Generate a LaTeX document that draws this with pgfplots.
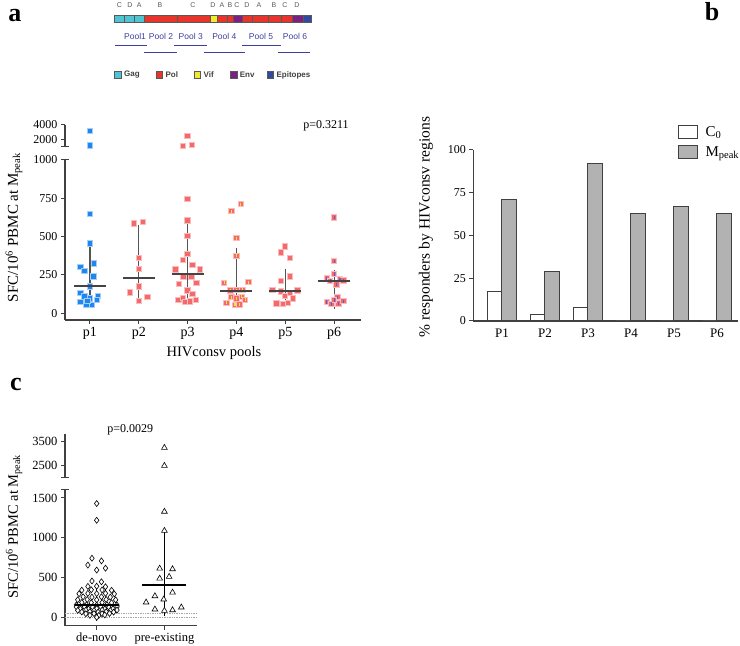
\documentclass[border=0pt]{standalone}
\usepackage{fontspec}
\setmainfont{Liberation Serif}
\newfontfamily\arial{Liberation Sans}
\usepackage{pgfplots}
\pgfplotsset{compat=1.18}

\definecolor{axgray}{HTML}{404040}
\definecolor{medgray}{HTML}{444444}
\definecolor{whgray}{HTML}{555555}
\definecolor{pblue}{HTML}{1E86EE}
\definecolor{pbluel}{HTML}{A3CFF7}
\definecolor{pred}{HTML}{F46A6A}
\definecolor{predl}{HTML}{F9BDBD}
\definecolor{gcyan}{HTML}{4FC4D3}
\definecolor{gred}{HTML}{E8352B}
\definecolor{gyel}{HTML}{F3EA2C}
\definecolor{gpur}{HTML}{7C2181}
\definecolor{gblue}{HTML}{2F4AA1}
\definecolor{pviol}{HTML}{5B5BE0}
\definecolor{pooltxt}{HTML}{3B3F9E}
\definecolor{barg}{HTML}{B2B2B2}

\newcommand{\fs}[1]{\fontsize{#1}{#1}\selectfont}

\pgfplotsset{
  prism/.style={
    scale only axis, anchor=south west,
    axis x line*=bottom, axis y line*=left,
    axis line style={axgray, line width=1.1pt, -},
    every tick/.style={axgray, line width=1pt},
    tick align=outside, major tick length=4pt,
    /pgf/number format/assume math mode=true,
    /pgf/number format/set thousands separator={},
    clip=false,
  },
  brk/.style={extra y tick style={tick align=center, major tick length=8pt}},
  sqb/.style={only marks, mark=square*, mark size=2.7pt, mark options={line width=1pt, fill=pblue, draw=pbluel}},
  sqr/.style={only marks, mark=square*, mark size=2.7pt, mark options={line width=1pt, fill=pred, draw=predl}},
  medA/.style={only marks, mark=-, mark size=16pt, mark options={line width=2pt, draw=medgray},
    error bars/.cd, y dir=both, y explicit, error mark=-,
    error mark options={mark size=8pt, line width=1.2pt, draw=whgray},
    error bar style={line width=1.2pt, draw=whgray}},
  medC/.style={only marks, mark=-, mark size=22pt, mark options={line width=1.8pt, draw=black},
    error bars/.cd, y dir=both, y explicit, error mark=-,
    error mark options={mark size=11.5pt, line width=1pt, draw=black},
    error bar style={line width=1pt, draw=black}},
  dia/.style={only marks, mark=diamond*, mark size=3pt, mark options={fill=white, draw=black, line width=0.6pt}},
  tri/.style={only marks, mark=triangle*, mark size=3.3pt, mark options={fill=white, draw=black, line width=0.6pt}},
}

\begin{document}
\begin{tikzpicture}[x=1pt,y=1pt]
\useasboundingbox (0,0) rectangle (740,646);

% ---------------- panel letters and notes
\node[font=\bfseries\fs{26}] at (15,630) {a};
\node[font=\bfseries\fs{26}] at (712,634) {b};
\node[font=\bfseries\fs{26}] at (16,262) {c};
\node[font=\fs{12}] at (326,520) {p=0.3211};
\node[font=\fs{12}] at (130.3,216) {p=0.0029};

% ---------------- genome schematic (panel a header)
\foreach \a/\b/\c in {114.3/124.3/gcyan, 124.3/134.3/gcyan, 134.3/144/gcyan, 144/177.3/gred, 177.3/210/gred, 210/217/gyel, 217/226.7/gred, 226.7/233.3/gred, 233.3/242.3/gpur, 242.3/252.3/gred, 252.3/268.3/gred, 268.3/280.7/gred, 280.7/292/gred, 292/303.3/gpur, 303.3/310.7/gblue}
  \filldraw[fill=\c, draw=black!65, line width=0.4pt] (\a,623.3) rectangle (\b,631);
\foreach \x/\l in {119.3/C, 130/D, 139.3/A, 160/B, 193/C, 213/D, 222/A, 230/B, 237/C, 247/D, 259/A, 274/B, 285/C, 297/D}
  \node[font=\arial\fs{7}, text=black!65] at (\x,641) {\l};
\foreach \x/\l in {135/Pool1, 161/Pool 2, 190.7/Pool 3, 224.3/Pool 4, 261/Pool 5, 295/Pool 6}
  \node[font=\arial\fs{8.5}, text=pooltxt] at (\x,609.3) {\l};
\foreach \a/\b/\y in {115/147.3/600, 174/206.7/600, 242.3/280.7/600, 144.3/176.7/593.7, 204/245/593.7, 278.3/310/593.7}
  \draw[pooltxt, line width=1pt] (\a,\y) -- (\b,\y);
\foreach \a/\c/\t in {114.3/gcyan/Gag, 155.7/gred/Pol, 193.7/gyel/Vif, 230/gpur/Env, 266.7/gblue/Epitopes}{
  \filldraw[fill=\c, draw=black!65, line width=0.4pt] (\a,567.7) rectangle ++(6.7,6.7);
  \node[font=\arial\bfseries\fs{8}, text=black!75, anchor=west, inner sep=0pt] at (\a+9.7,571) {\t};
}

% ---------------- panel a, lower segment
\begin{axis}[prism, brk, at={(65pt,326pt)}, width=296pt, height=160pt,
  xmin=0.49, xmax=6.55, ymin=-45, ymax=1000,
  xtick={1,2,3,4,5,6}, xticklabels={p1,p2,p3,p4,p5,p6},
  ytick={0,250,500,750}, extra y ticks={1000},
  xticklabel style={font=\fs{14}}, yticklabel style={font=\fs{12}},
  xlabel={HIVconsv pools}, xlabel style={font=\fs{14.5}, at={(axis description cs:0.503,-0.206)}, anchor=center},
  ylabel={SFC/10\textsuperscript{6} PBMC at M\textsubscript{peak}},
  ylabel style={font=\fs{15}, at={(axis description cs:-0.172,0.578)}, anchor=center},
]
\addplot[sqb] coordinates {(1,646)(1,454)(0.805,302)(0.893,276)(1.078,324)(1.07,239)(1,174)(0.805,132)(0.893,108)(1.167,113)(1.14,87)(0.81,74)(0.93,52)(1.04,54)(1.0,95)(0.95,80)};
\addplot[sqr] coordinates {(1.9,584)(2.09,594)(2,359)(2,289)(2,174)(1.82,134)(2.18,104)(2,80)};
\addplot[sqr] coordinates {(3,746)(3,604)(3,504)(3,385)(2.9,348)(3.1,315)(2.75,284)(3.25,284)(2.92,239)(3.08,239)(2.82,189)(3.18,196)(3,147)(3.1,126)(2.81,85)(2.9,98)(2.95,72)(3.05,75)(3.17,85)};
\addplot[sqr] coordinates {(4.09,711)(3.9,665)(4,489)(4,374)(3.75,198)(4.25,202)(3.88,147)(4,150)(4.12,152)(3.9,104)(4.1,107)(3.8,67)(3.97,54)(4.06,56)(4.18,87)(4,95)};
\addplot[only marks, mark=|, mark size=1.6pt, mark options={draw=gyel, line width=1.2pt}] coordinates {(4.09,711)(3.9,665)(4,489)(4,374)(3.75,198)(4.25,202)(3.88,147)(4,150)(4.12,152)(3.9,104)(4.1,107)(3.8,67)(3.97,54)(4.06,56)(4.18,87)(4,95)};
\addplot[sqr] coordinates {(5,434)(4.91,395)(5.1,361)(5.1,239)(4.91,211)(4.74,152)(5.25,147)(4.91,141)(5.1,130)(5.16,95)(4.82,62)(4.95,58)(5.06,65)(5,110)};
\addplot[sqr] coordinates {(6,624)(6,339)(6,256)(5.85,225)(6.12,222)(5.92,210)(6.19,212)(6.05,188)(6.07,104)(5.85,72)(5.95,60)(6.09,64)(6.19,78)(6,85)};
\addplot[only marks, mark=|, mark size=1.6pt, mark options={draw=pviol, line width=1.2pt}] coordinates {(6,624)(6,339)(6,256)(5.85,225)(6.12,222)(5.92,210)(6.19,212)(6.05,188)(6.07,104)(5.85,72)(5.95,60)(6.09,64)(6.19,78)(6,85)};
\addplot[medA] coordinates {(1,174) += (0,215) -= (0,81)
  (2,232) += (0,294) -= (0,119)
  (3,258) += (0,270) -= (0,134)
  (4,145) += (0,227) -= (0,60)
  (5,143) += (0,96) -= (0,48)
  (6,209) += (0,21) -= (0,133)};
\end{axis}

% ---------------- panel a, upper segment
\begin{axis}[prism, brk, at={(65pt,499.3pt)}, width=296pt, height=21.7pt,
  xmin=0.49, xmax=6.55, ymin=1000, ymax=4000, axis x line=none,
  ytick={2000,4000}, extra y ticks={1000}, extra y tick labels={},
  yticklabel style={font=\fs{12}},
]
\addplot[sqb] coordinates {(1,3200)(1,1150)};
\addplot[sqr] coordinates {(3,2500)(2.9,1100)(3.09,1250)};
\end{axis}

% ---------------- panel b
\begin{axis}[prism, at={(473.3pt,325pt)}, width=264.7pt, height=171pt,
  xmin=0.333, xmax=6.49, ymin=0, ymax=100,
  ytick={0,25,50,75,100}, xtick={1,2,3,4,5,6}, xticklabels={P1,P2,P3,P4,P5,P6},
  x tick style={draw=none},
  xticklabel style={font=\fs{13}}, yticklabel style={font=\fs{12}},
  ybar=0pt, bar width=14.3pt,
  ylabel={\% responders by HIVconsv regions},
  ylabel style={font=\fs{15.5}, at={(axis description cs:-0.179,0.55)}, anchor=center},
  legend style={at={(0.771,1.152)}, anchor=north west, draw=none, fill=none, inner sep=0pt,
    row sep=5pt, font=\fs{15}, cells={anchor=west}},
  legend image code/.code={\draw[#1] (0pt,-6.5pt) rectangle (19pt,6.5pt); \path (25pt,0pt);},
]
\addplot[fill=white, draw=axgray, line width=1pt] coordinates {(1,17)(2,4)(3,8)(4,0)(5,0)(6,0)};
\addplot[fill=barg, draw=axgray, line width=1pt] coordinates {(1,71)(2,29)(3,92)(4,63)(5,67)(6,63)};
\legend{C\textsubscript{0}, M\textsubscript{peak}}
\end{axis}

% ---------------- panel c, lower segment
\begin{axis}[prism, brk, at={(65pt,20.3pt)}, width=131.7pt, height=135.7pt,
  xmin=0.532, xmax=2.477, ymin=-100, ymax=1600,
  ytick={0,500,1000,1500}, extra y ticks={1600}, extra y tick labels={},
  xtick={1,2}, xticklabels={de-novo,pre-existing},
  xticklabel style={font=\fs{12.5}}, yticklabel style={font=\fs{12.5}},
  ylabel={SFC/10\textsuperscript{6} PBMC at M\textsubscript{peak}},
  ylabel style={font=\fs{14.5}, at={(axis description cs:-0.387,0.73)}, anchor=center},
]
\addplot[gray!70, densely dotted, line width=0.7pt, no marks] coordinates {(0.532,55)(2.477,55)};
\addplot[gray!70, densely dotted, line width=0.7pt, no marks] coordinates {(0.532,0)(2.477,0)};
\addplot[dia] coordinates {(1,1430)(1,1220)(0.93,745)(1.07,712)(0.87,660)(1.13,620)(1,597)(0.93,460)(1.07,450)
 (0.87,392)(1,395)(1.13,388)
 (0.78,345)(0.92,350)(1.08,348)(1.22,343)
 (0.74,300)(0.87,305)(1,302)(1.13,305)(1.26,298)
 (0.8,262)(0.93,258)(1.07,262)(1.2,258)
 (0.72,225)(0.86,228)(1,224)(1.14,228)(1.28,224)
 (0.78,192)(0.92,188)(1.08,190)(1.22,188)
 (0.7,160)(0.85,162)(1,158)(1.15,162)(1.3,158)
 (0.7,135)(0.82,138)(0.94,132)(1.06,138)(1.18,132)(1.3,136)
 (0.76,112)(0.88,110)(1,114)(1.12,110)(1.24,112)
 (0.72,92)(0.84,95)(0.96,90)(1.08,95)(1.2,90)(1.3,96)
 (0.78,72)(0.9,75)(1.02,70)(1.14,74)(1.25,70)
 (0.84,50)(0.96,52)(1.08,50)(1.19,54)
 (0.9,30)(1.03,28)(1.12,35)
 (1,5)};
\addplot[tri] coordinates {(2,1330)(2,1090)(1.93,617)(2.12,609)(1.93,492)(2.07,513)(2.12,317)(1.86,271)(1.99,230)(1.73,192)(1.86,105)(2,88)(2.12,96)(2.25,130)};
\addplot[medC] coordinates {(1,159) += (0,137) -= (0,54)
  (2,409) += (0,562) -= (0,242)};
\end{axis}

% ---------------- panel c, upper segment
\begin{axis}[prism, brk, at={(65pt,168.3pt)}, width=131.7pt, height=43.2pt,
  xmin=0.532, xmax=2.477, ymin=2000, ymax=3800, axis x line=none,
  ytick={2500,3500}, extra y ticks={2000}, extra y tick labels={},
  yticklabel style={font=\fs{12.5}},
]
\addplot[tri] coordinates {(2,3250)(2,2500)};
\end{axis}
\end{tikzpicture}
\end{document}
